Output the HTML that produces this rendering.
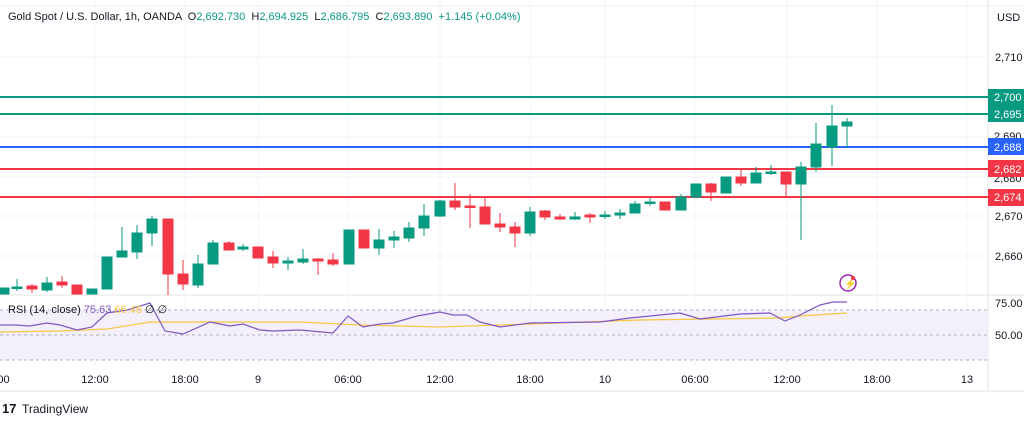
<!DOCTYPE html>
<html><head><meta charset="utf-8"><style>
html,body{margin:0;padding:0;background:#fff;width:1024px;height:421px;overflow:hidden}
svg{display:block;font-family:"Liberation Sans",sans-serif}
</style></head><body>
<svg width="1024" height="421" viewBox="0 0 1024 421">
<rect width="1024" height="421" fill="#fff"/>
<g stroke="#f2f3f5" stroke-width="1">
<line x1="95" y1="0" x2="95" y2="365"/><line x1="185" y1="0" x2="185" y2="365"/><line x1="258" y1="0" x2="258" y2="365"/><line x1="348" y1="0" x2="348" y2="365"/><line x1="440" y1="0" x2="440" y2="365"/><line x1="530" y1="0" x2="530" y2="365"/><line x1="605" y1="0" x2="605" y2="365"/><line x1="695" y1="0" x2="695" y2="365"/><line x1="787" y1="0" x2="787" y2="365"/><line x1="877" y1="0" x2="877" y2="365"/><line x1="967" y1="0" x2="967" y2="365"/>
<line x1="0" y1="57" x2="988" y2="57"/><line x1="0" y1="137" x2="988" y2="137"/><line x1="0" y1="177" x2="988" y2="177"/><line x1="0" y1="216" x2="988" y2="216"/><line x1="0" y1="256" x2="988" y2="256"/>
</g>
<line x1="0" y1="6" x2="1024" y2="6" stroke="#eee"/>
<line x1="988" y1="0" x2="988" y2="391" stroke="#e6e6e6"/>
<line x1="0" y1="295" x2="1024" y2="295" stroke="#e6e6e6"/>
<line x1="0" y1="391" x2="1024" y2="391" stroke="#e6e6e6"/>
<rect x="0" y="310" width="988" height="50" fill="#f3effb"/>
<g stroke="#b0b0bc" stroke-dasharray="3,3"><line x1="0" y1="310" x2="988" y2="310"/><line x1="0" y1="335" x2="988" y2="335"/><line x1="0" y1="360" x2="988" y2="360"/></g>
<polyline fill="none" stroke="#f5c842" stroke-width="1.2" points="0,332 60,331 107,329 150,322 300,322 360,325 440,327 530,324 640,320 780,318 800,316 847,313"/>
<polyline fill="none" stroke="#7e57c2" stroke-width="1.2" points="0,325 15,325 30,326 47,323 60,325 77,330 92,327 107,313 127,310 150,303 165,331 183,334 210,322 230,326 243,324 260,330 273,331 300,330 333,333 348,316 363,327 380,324 393,323 417,316 440,312 453,315 467,315 480,322 500,327 530,323 600,322 630,318 680,313 700,319 740,314 770,313 785,321 800,315 820,305 833,302 847,302"/>
<g stroke-width="2">
<line x1="0" y1="97" x2="988" y2="97" stroke="#089981"/>
<line x1="0" y1="114" x2="988" y2="114" stroke="#089981"/>
<line x1="0" y1="147" x2="988" y2="147" stroke="#2962ff"/>
<line x1="0" y1="169" x2="988" y2="169" stroke="#f23645"/>
<line x1="0" y1="197" x2="988" y2="197" stroke="#f23645"/>
</g>
<g stroke-width="1">
<g fill="#089981" stroke="#089981">
<rect x="0" y="288" width="9" height="6"/>
<line x1="17" y1="279" x2="17" y2="291"/><rect x="12" y="287" width="10" height="1.5"/>
<line x1="47" y1="277" x2="47" y2="292"/><rect x="42" y="283" width="10" height="7"/>
<rect x="87" y="289" width="10" height="5"/>
<rect x="102" y="257" width="10" height="32"/>
<line x1="122" y1="227" x2="122" y2="257"/><rect x="117" y="251" width="10" height="6"/>
<line x1="137" y1="225" x2="137" y2="259"/><rect x="132" y="233" width="10" height="19"/>
<line x1="152" y1="216" x2="152" y2="246"/><rect x="147" y="219" width="10" height="14"/>
<line x1="198" y1="255" x2="198" y2="288"/><rect x="193" y="264" width="10" height="21"/>
<line x1="213" y1="240" x2="213" y2="264"/><rect x="208" y="243" width="10" height="21"/>
<line x1="243" y1="244" x2="243" y2="251"/><rect x="238" y="247" width="10" height="2"/>
<line x1="288" y1="257" x2="288" y2="270"/><rect x="283" y="261" width="10" height="2"/>
<line x1="303" y1="249" x2="303" y2="264"/><rect x="298" y="259" width="10" height="3"/>
<rect x="344" y="230" width="10" height="34"/>
<line x1="379" y1="229" x2="379" y2="255"/><rect x="374" y="240" width="10" height="8"/>
<line x1="394" y1="231" x2="394" y2="248"/><rect x="389" y="237" width="10" height="3"/>
<line x1="409" y1="222" x2="409" y2="242"/><rect x="404" y="228" width="10" height="10"/>
<line x1="424" y1="204" x2="424" y2="236"/><rect x="419" y="216" width="10" height="12"/>
<line x1="440" y1="200" x2="440" y2="217"/><rect x="435" y="201" width="10" height="15"/>
<line x1="530" y1="207" x2="530" y2="236"/><rect x="525" y="212" width="10" height="21"/>
<line x1="575" y1="212" x2="575" y2="220"/><rect x="570" y="217" width="10" height="2"/>
<line x1="605" y1="211" x2="605" y2="219"/><rect x="600" y="215" width="10" height="1.5"/>
<line x1="620" y1="209" x2="620" y2="219"/><rect x="615" y="213" width="10" height="2"/>
<line x1="635" y1="201" x2="635" y2="213"/><rect x="630" y="204" width="10" height="9"/>
<line x1="650" y1="198" x2="650" y2="206"/><rect x="645" y="202" width="10" height="1.5"/>
<line x1="681" y1="194" x2="681" y2="210"/><rect x="676" y="197" width="10" height="13"/>
<line x1="696" y1="184" x2="696" y2="198"/><rect x="691" y="184" width="10" height="13"/>
<rect x="721" y="177" width="10" height="16"/>
<line x1="756" y1="167" x2="756" y2="183"/><rect x="751" y="173" width="10" height="10"/>
<line x1="771" y1="165" x2="771" y2="175"/><rect x="766" y="172" width="10" height="1.5"/>
<line x1="801" y1="162" x2="801" y2="240"/><rect x="796" y="167" width="10" height="17"/>
<line x1="816" y1="123" x2="816" y2="172"/><rect x="811" y="144" width="10" height="23"/>
<line x1="832" y1="105" x2="832" y2="166"/><rect x="827" y="126" width="10" height="21"/>
<line x1="847" y1="118" x2="847" y2="148"/><rect x="842" y="122" width="10" height="4"/>
</g>
<g fill="#f23645" stroke="#f23645">
<line x1="32" y1="284" x2="32" y2="293"/><rect x="27" y="286" width="10" height="3"/>
<line x1="62" y1="276" x2="62" y2="288"/><rect x="57" y="282" width="10" height="3"/>
<rect x="72" y="285" width="10" height="9"/>
<line x1="168" y1="219" x2="168" y2="295"/><rect x="163" y="219" width="10" height="55"/>
<line x1="183" y1="260" x2="183" y2="290"/><rect x="178" y="274" width="10" height="10"/>
<line x1="229" y1="241" x2="229" y2="250"/><rect x="224" y="243" width="10" height="7"/>
<rect x="253" y="247" width="10" height="11"/>
<line x1="273" y1="251" x2="273" y2="268"/><rect x="268" y="257" width="10" height="6"/>
<line x1="318" y1="258" x2="318" y2="275"/><rect x="313" y="259" width="10" height="2"/>
<line x1="333" y1="253" x2="333" y2="266"/><rect x="328" y="260" width="10" height="4"/>
<rect x="359" y="230" width="10" height="18"/>
<line x1="455" y1="183" x2="455" y2="210"/><rect x="450" y="201" width="10" height="6"/>
<line x1="470" y1="194" x2="470" y2="228"/><rect x="465" y="206" width="10" height="1.5"/>
<line x1="485" y1="196" x2="485" y2="224"/><rect x="480" y="207" width="10" height="17"/>
<line x1="500" y1="213" x2="500" y2="232"/><rect x="495" y="224" width="10" height="3"/>
<line x1="515" y1="222" x2="515" y2="247"/><rect x="510" y="227" width="10" height="6"/>
<line x1="545" y1="210" x2="545" y2="220"/><rect x="540" y="211" width="10" height="6"/>
<line x1="560" y1="214" x2="560" y2="220"/><rect x="555" y="217" width="10" height="2"/>
<line x1="590" y1="213" x2="590" y2="223"/><rect x="585" y="215" width="10" height="2"/>
<rect x="660" y="202" width="10" height="8"/>
<line x1="711" y1="183" x2="711" y2="201"/><rect x="706" y="184" width="10" height="8"/>
<line x1="741" y1="168" x2="741" y2="186"/><rect x="736" y="177" width="10" height="6"/>
<line x1="786" y1="172" x2="786" y2="196"/><rect x="781" y="172" width="10" height="12"/>
</g>
</g>
<g font-size="11" fill="#131722">
<text x="995" y="61">2,710</text>
<text x="995" y="220">2,670</text>
<text x="995" y="260">2,660</text>
<text x="995" y="307">75.00</text>
<text x="995" y="339">50.00</text>
</g>
<text x="997" y="21" font-size="11" fill="#131722">USD</text>
<g font-size="11" fill="#fff">
<rect x="988" y="89" width="36" height="16" fill="#089981"/><text x="994" y="101">2,700</text>
<rect x="988" y="105" width="36" height="17" fill="#089981"/><text x="994" y="118">2,695</text>
<text x="994" y="140" fill="#131722">2,690</text>
<rect x="988" y="138" width="36" height="17" fill="#2962ff"/><text x="994" y="151">2,688</text>
<text x="994" y="182" fill="#131722">2,680</text>
<rect x="988" y="160" width="36" height="17" fill="#f23645"/><text x="994" y="173">2,682</text>
<rect x="988" y="189" width="36" height="17" fill="#f23645"/><text x="994" y="201">2,674</text>
</g>
<text x="8" y="20" font-size="11" fill="#131722" xml:space="preserve">Gold Spot / U.S. Dollar, 1h, OANDA  O<tspan fill="#089981">2,692.730</tspan>  H<tspan fill="#089981">2,694.925</tspan>  L<tspan fill="#089981">2,686.795</tspan>  C<tspan fill="#089981">2,693.890  +1.145 (+0.04%)</tspan></text>
<text x="8" y="313" font-size="11" fill="#131722">RSI (14, close) <tspan fill="#7e57c2">75.63</tspan> <tspan fill="#f5c842">66.46</tspan> <tspan fill="#131722">∅ ∅</tspan></text>
<circle cx="848" cy="283" r="8" fill="none" stroke="#9c27b0" stroke-width="1.5"/>
<text x="844" y="287" font-size="10" fill="#9c27b0">⚡</text>
<circle cx="853" cy="278" r="2" fill="#f23645"/>
<g font-size="11" fill="#131722" text-anchor="middle">
<text x="2" y="383">:00</text><text x="95" y="383">12:00</text><text x="185" y="383">18:00</text><text x="258" y="383">9</text><text x="348" y="383">06:00</text><text x="440" y="383">12:00</text><text x="530" y="383">18:00</text><text x="605" y="383">10</text><text x="695" y="383">06:00</text><text x="787" y="383">12:00</text><text x="877" y="383">18:00</text><text x="967" y="383">13</text>
</g>
<text x="2" y="413" font-size="13" font-weight="bold" fill="#131722">17</text>
<text x="22" y="413" font-size="12" fill="#131722">TradingView</text>
</svg>
</body></html>
